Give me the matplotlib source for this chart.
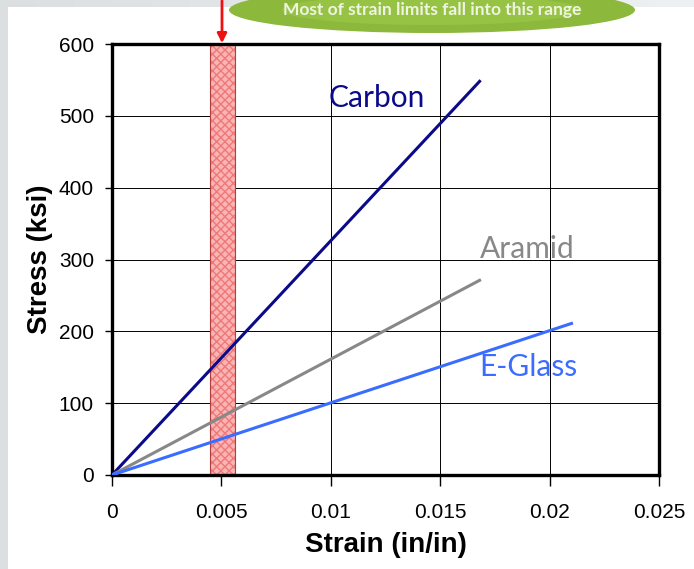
import numpy as np
import matplotlib
matplotlib.use("Agg")
import matplotlib.pyplot as plt
from matplotlib.patches import Ellipse, Rectangle

# fibre data: straight lines from origin to failure point
materials = ["Carbon", "Aramid", "E-Glass"]
fail_strain = [0.0168, 0.0168, 0.0210]      # in/in
fail_stress = [548, 271, 211]               # ksi
line_colors = ["#0b0b8a", "#888888", "#3a6cff"]
label_pos = [(0.0099, 525), (0.0168, 315), (0.0168, 150)]

band_lo, band_hi = 0.0045, 0.0056
xticks = [0, 0.005, 0.01, 0.015, 0.02, 0.025]
xtick_labels = ["0", "0.005", "0.01", "0.015", "0.02", "0.025"]
yticks = [0, 100, 200, 300, 400, 500, 600]

W, H = 694, 569
fig = plt.figure(figsize=(W / 100, H / 100), dpi=100)

# slide background
bg = fig.add_axes([0, 0, 1, 1], zorder=0)
bg.set_xlim(0, W)
bg.set_ylim(H, 0)
bg.axis("off")
grad = np.linspace(0.86, 0.93, 256)[None, :]
bg.imshow(np.dstack([grad, grad + 0.015, grad + 0.02]).clip(0, 1),
          extent=[0, W, H, 0], aspect="auto")
bg.add_patch(Rectangle((8, 7), W - 8, H - 7, facecolor="white", edgecolor="none"))

ax = fig.add_axes([112 / W, 1 - 475 / H, 547 / W, 431 / H], zorder=1)
ax.set_xlim(0, 0.025)
ax.set_ylim(0, 600)

ax.add_patch(Rectangle((band_lo, 0), band_hi - band_lo, 600, facecolor="#f9b4b4",
                       edgecolor="#f07878", hatch="xxxx", linewidth=0, zorder=1))
ax.add_patch(Rectangle((band_lo, 0), band_hi - band_lo, 600, facecolor="none",
                       edgecolor="#b04040", linewidth=0.8, zorder=1.5))

for name, xs, ys, c, (lx, ly) in zip(materials, fail_strain, fail_stress,
                                     line_colors, label_pos):
    ax.plot([0, xs], [0, ys], color=c, linewidth=2.2, zorder=3)
    ax.text(lx, ly, name, color=c, fontsize=21.5, family="Lato",
            va="center", ha="left", zorder=4)

ax.set_xticks(xticks)
ax.set_xticklabels(xtick_labels)
ax.set_yticks(yticks)
ax.grid(True, color="black", linewidth=0.7)
ax.set_axisbelow(True)
for s in ax.spines.values():
    s.set_linewidth(2.4)
ax.tick_params(axis="x", direction="out", length=8, width=1, labelsize=15, pad=12)
ax.tick_params(axis="y", direction="out", length=5, width=1, labelsize=15, pad=8)
for t in ax.get_xticklabels() + ax.get_yticklabels():
    t.set_family("Liberation Sans")
ax.set_xlabel("Strain (in/in)", fontsize=20, fontweight="bold",
              family="Liberation Sans", labelpad=7)
ax.set_ylabel("Stress (ksi)", fontsize=20, fontweight="bold",
              family="Liberation Sans", labelpad=4)

# overlay: callout ellipse and arrow
ov = fig.add_axes([0, 0, 1, 1], zorder=2)
ov.set_xlim(0, W)
ov.set_ylim(H, 0)
ov.axis("off")
ov.patch.set_alpha(0)
ov.add_patch(Ellipse((432, 10), 406, 46, facecolor="#8cb83c", edgecolor="none"))
ov.add_patch(Ellipse((432, 10), 300, 30, facecolor="#9cc84a", edgecolor="none", alpha=0.7))
ov.text(432, 10, "Most of strain limits fall into this range", color="#eef4e0",
        fontsize=12.5, fontweight="bold", family="Lato", ha="center", va="center")
ov.annotate("", xy=(222, 46), xytext=(222, -2),
            arrowprops=dict(arrowstyle="-|>", color="#ee1111", lw=2, mutation_scale=14))

fig.savefig("out.png", dpi=100)
